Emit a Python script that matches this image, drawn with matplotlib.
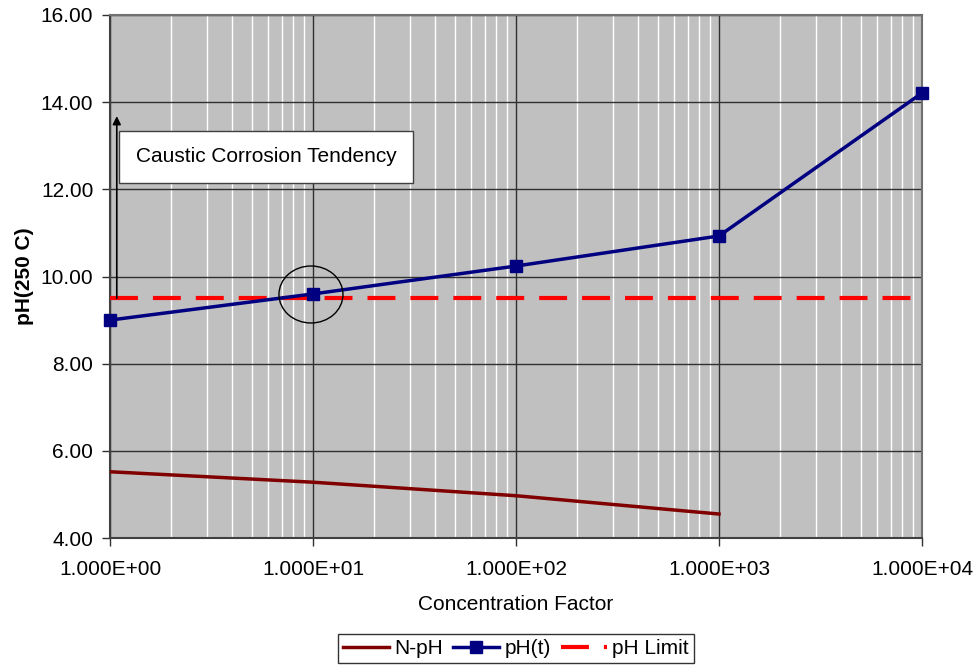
import numpy as np
import matplotlib
matplotlib.use('Agg')
import matplotlib.pyplot as plt
from matplotlib.ticker import FuncFormatter, LogLocator, FixedLocator
from matplotlib.patches import Ellipse

plt.rcParams['font.family'] = ['Liberation Sans', 'DejaVu Sans']

# data
conc = [1, 10, 100, 1000, 10000]
ph_t = [9.00, 9.60, 10.24, 10.93, 14.21]
conc_n = [1, 10, 100, 1000]
n_ph = [5.52, 5.28, 4.97, 4.55]
limit_x = [1, 10000]
limit_y = [9.5, 9.5]
yticks = [4, 6, 8, 10, 12, 14, 16]

W, H = 980, 665
FS = 15
fig = plt.figure(figsize=(W / 100, H / 100), dpi=100)
ax = fig.add_axes([110 / W, 1 - 538 / H, (922 - 110) / W, (538 - 15) / H])
ax.set_facecolor('#c0c0c0')

ax.set_xscale('log')
ax.set_xlim(1, 10000)
ax.set_ylim(4, 16)

# grid: black major, white minor (x)
ax.xaxis.set_minor_locator(LogLocator(base=10, subs=np.arange(2, 10)))
ax.grid(True, which='major', color='#303030', lw=1.0, zorder=1)
ax.grid(True, which='minor', axis='x', color='white', lw=1.0, zorder=1)
ax.set_axisbelow(True)

ax.plot(conc_n, n_ph, color='#800000', lw=2.5, label='N-pH', zorder=3)
ax.plot(conc, ph_t, color='#000080', lw=2.5, marker='s', ms=9,
        label='pH(t)', zorder=4, clip_on=False)
ax.plot(limit_x, limit_y, color='#ff0000', lw=3, dashes=(6.7, 3.6),
        label='pH Limit', zorder=3)

ax.yaxis.set_major_locator(FixedLocator(yticks))
ax.yaxis.set_major_formatter(FuncFormatter(lambda v, p: '%.2f' % v))
ax.xaxis.set_major_formatter(FuncFormatter(
    lambda v, p: '%.3fE+%02d' % (1.0, int(round(np.log10(v))))))
ax.tick_params(axis='both', which='major', length=6, width=1,
               color='#303030', labelsize=FS, pad=6)
ax.tick_params(axis='x', which='minor', length=0)
ax.tick_params(axis='x', pad=10)

for s in ax.spines.values():
    s.set_color('#707070')
    s.set_linewidth(1.5)
ax.spines['left'].set_color('#404040')
ax.spines['bottom'].set_color('#404040')

ax.set_xlabel('Concentration Factor', fontsize=FS, labelpad=11)
ax.set_ylabel('pH(250 C)', fontsize=FS, fontweight='bold', labelpad=5)

# circle around crossing point
ax.add_patch(Ellipse((0.2475, 0.4656), 64 / 812, 57 / 523, transform=ax.transAxes,
                     fill=False, edgecolor='black', lw=1, zorder=5))

# arrow and text box
ax.annotate('', xy=(1.08, 13.68), xytext=(1.08, 9.5),
            arrowprops=dict(arrowstyle='-|>', color='black', lw=1.2,
                            mutation_scale=12, shrinkA=0, shrinkB=0), zorder=5)
fig.text(266 / W, 1 - 157 / H, 'Caustic Corrosion Tendency', fontsize=FS,
         ha='center', va='center',
         bbox=dict(boxstyle='square,pad=0.8', facecolor='white',
                   edgecolor='#404040', lw=1))

leg = fig.legend(loc='lower center', bbox_to_anchor=(516 / W, 2 / H), ncol=3,
                 fontsize=FS, frameon=True, fancybox=False, edgecolor='black',
                 handlelength=2.2, handletextpad=0.25, columnspacing=0.5,
                 borderpad=0.25, numpoints=1, borderaxespad=0)
leg.get_frame().set_linewidth(1)

fig.savefig('out.png', dpi=100)
